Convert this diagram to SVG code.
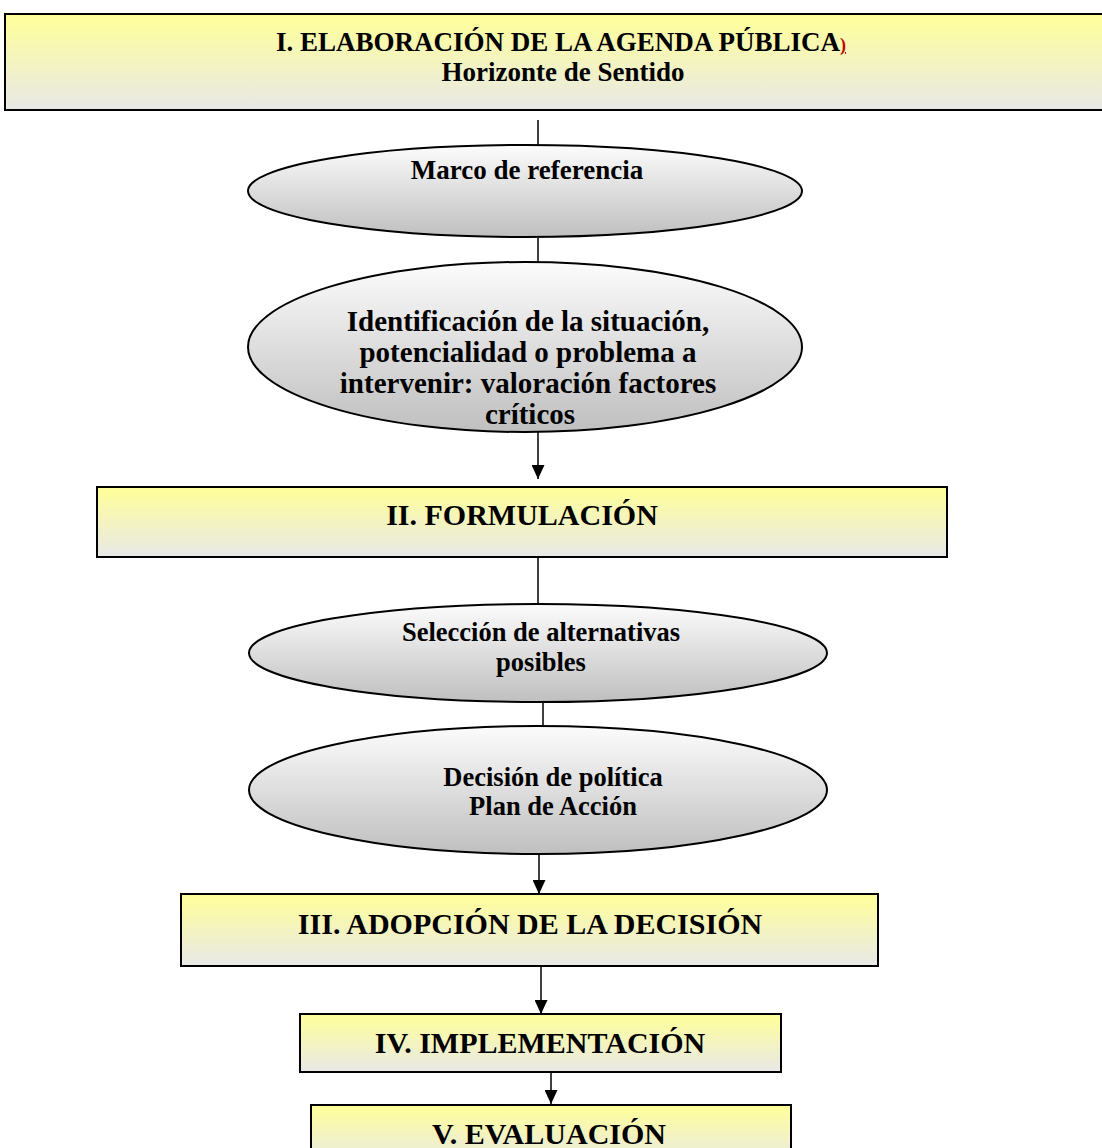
<svg xmlns="http://www.w3.org/2000/svg" width="1102" height="1148" viewBox="0 0 1102 1148">
<style>
.box{stroke:#000;stroke-width:2;fill:url(#gy)}
.sh{fill:#9a9a9a}
.ell{stroke:#000;stroke-width:2;fill:url(#gg)}
.t{font-family:"Liberation Serif","Times New Roman",serif;font-weight:bold;fill:#000;text-anchor:middle}
.c{stroke:#000;stroke-width:1.5;fill:none}
</style>
<defs>
<linearGradient id="gy" x1="0" y1="0" x2="0" y2="1">
<stop offset="0" stop-color="#ffff99"/>
<stop offset="1" stop-color="#e8e8e8"/>
</linearGradient>
<linearGradient id="gg" x1="0" y1="0" x2="0" y2="1">
<stop offset="0" stop-color="#fcfcfc"/>
<stop offset="1" stop-color="#bfbfbf"/>
</linearGradient>
<marker id="ah" markerWidth="14" markerHeight="13" refX="14" refY="6.5" orient="auto" markerUnits="userSpaceOnUse" viewBox="0 0 14 13">
<path d="M0,0 L14,6.5 L0,13 z" fill="#000"/>
</marker>
</defs>
<rect width="1102" height="1148" fill="#fff"/>
<g id="connectors">
<line class="c" x1="538" y1="120" x2="538" y2="146"/>
<line class="c" x1="538" y1="238" x2="538" y2="264"/>
<line class="c" x1="538" y1="432" x2="538" y2="479" marker-end="url(#ah)"/>
<line class="c" x1="538" y1="557" x2="538" y2="605"/>
<line class="c" x1="543" y1="702" x2="543" y2="727"/>
<line class="c" x1="539" y1="846" x2="539" y2="894" marker-end="url(#ah)"/>
<line class="c" x1="541" y1="966" x2="541" y2="1014" marker-end="url(#ah)"/>
<line class="c" x1="551" y1="1072" x2="551" y2="1104" marker-end="url(#ah)"/>
</g>
<g id="n1">
<rect class="box" x="5" y="14" width="1110" height="96"/>
<text class="t" x="561" y="51" font-size="27">I. ELABORACIÓN DE LA AGENDA PÚBLICA<tspan fill="#c00000" font-size="18" text-decoration="underline">)</tspan></text>
<text class="t" x="563" y="81" font-size="27">Horizonte de Sentido</text>
</g>
<g id="n2">
<ellipse class="ell" cx="525" cy="191" rx="277" ry="46"/>
<text class="t" x="527" y="179" font-size="27">Marco de referencia</text>
</g>
<g id="n3">
<ellipse class="ell" cx="525" cy="347" rx="277" ry="85"/>
<text class="t" x="528" y="331" font-size="29">Identificación de la situación,</text>
<text class="t" x="528" y="362" font-size="29">potencialidad o problema a</text>
<text class="t" x="528" y="393" font-size="29">intervenir: valoración factores</text>
<text class="t" x="530" y="424" font-size="29">críticos</text>
</g>
<g id="n4">
<rect class="box" x="97" y="487" width="850" height="70"/>
<text class="t" x="522" y="525" font-size="30">II. FORMULACIÓN</text>
</g>
<g id="n5">
<ellipse class="ell" cx="538" cy="653" rx="289" ry="49"/>
<text class="t" x="541" y="641" font-size="26.5">Selección de alternativas</text>
<text class="t" x="541" y="671" font-size="26.5">posibles</text>
</g>
<g id="n6">
<ellipse class="ell" cx="538" cy="790" rx="289" ry="64"/>
<text class="t" x="553" y="786" font-size="26.5">Decisión de política</text>
<text class="t" x="553" y="815" font-size="26.5">Plan de Acción</text>
</g>
<g id="n7">
<rect class="box" x="181" y="894" width="697" height="72"/>
<text class="t" x="530" y="934" font-size="30">III. ADOPCIÓN DE LA DECISIÓN</text>
</g>
<g id="n8">
<rect class="box" x="300" y="1014" width="481" height="58"/>
<text class="t" x="540" y="1053" font-size="30">IV. IMPLEMENTACIÓN</text>
</g>
<g id="n9">
<rect class="box" x="311" y="1105" width="480" height="60"/>
<text class="t" x="549" y="1144" font-size="30">V. EVALUACIÓN</text>
</g>
</svg>
